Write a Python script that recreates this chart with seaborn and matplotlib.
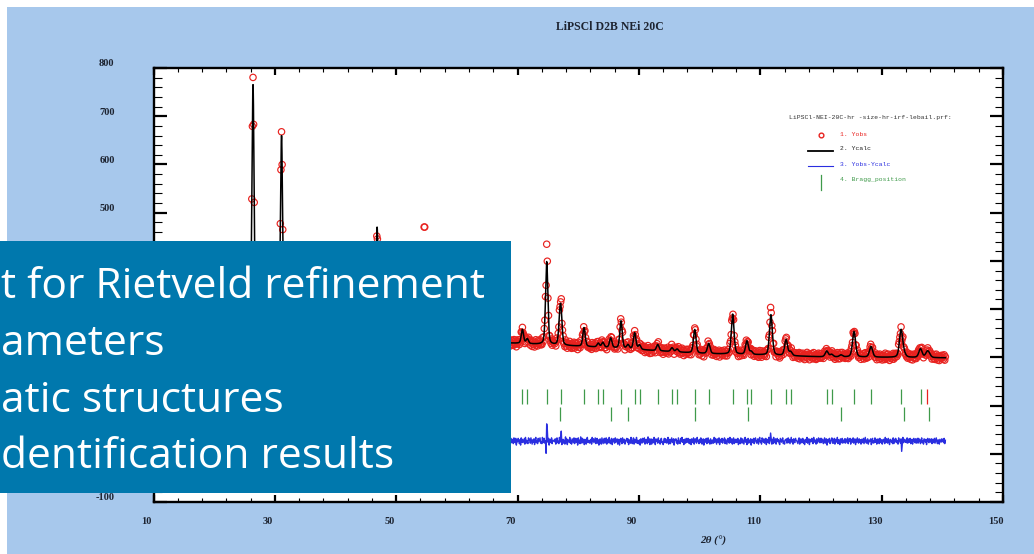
import numpy as np
import matplotlib
matplotlib.use("Agg")
import matplotlib.pyplot as plt
import seaborn as sns
from matplotlib.patches import Rectangle
from matplotlib.lines import Line2D

# ---------------------------------------------------------------- data
TT_START = 10.0          # first 2theta of the observed scan
TT_STEP = 0.1            # scan step (deg)

# background nodes (2theta, counts)
BKG_POS = [10, 20, 30, 40, 50, 60, 70, 75, 80, 85, 90, 95, 100, 110, 115, 120, 130, 140]
BKG_VAL = [262, 258, 252, 246, 240, 234, 229, 226, 223, 220, 216, 212, 208, 205, 203, 201, 200, 199]

# reflections of the calculated profile: position, height above background, FWHM
PEAK_POS = [26.4, 31.1, 46.85, 54.65, 70.8, 71.6, 74.8, 76.95, 77.15, 80.95,
            83.3, 84.05, 85.35, 87.05, 88.2, 89.3, 90.1, 93.1, 95.45, 96.3,
            99.2, 101.5, 105.45, 107.8, 108.5, 111.75, 114.25, 115.0, 120.95, 121.75,
            123.3, 125.45, 128.25, 133.2, 133.7, 136.4, 137.5, 137.8]
PEAK_AMP = [511, 408, 228, 195, 29, 10, 172, 40, 60, 39,
            8, 10, 20, 57, 8, 34, 9, 13, 8, 6,
            49, 21, 83, 28, 6, 84, 33, 8, 12, 5,
            4, 53, 22, 57, 6, 18, 10, 6]
PEAK_FWHM = [0.42, 0.42, 0.43, 0.43, 0.45, 0.45, 0.45, 0.45, 0.45, 0.46,
             0.46, 0.46, 0.47, 0.47, 0.47, 0.48, 0.48, 0.49, 0.5, 0.5,
             0.5, 0.51, 0.52, 0.53, 0.53, 0.55, 0.56, 0.56, 0.58, 0.58,
             0.59, 0.6, 0.61, 0.63, 0.63, 0.64, 0.65, 0.65]

# counting scatter of the observed points about the calculated profile
NOISE = [
    3, -5, 1, 7, -2, -8, 4, 0, -3, 6, 2, -6, 9, -1, -4, 5, -7, 2, 8, -3,
    -1, 4, -9, 2, 6, -3, 0, 5, -6, 3, -2, 7, -5, 1, 10, -4, 2, -8, 4, 0,
    6, -2, -5, 8, 1, -7, 3, -1, 5, -4, 2, 9, -3, -6, 4, 0, 7, -2, -9, 3,
    -4, 1, 6, -3, 8, -1, -6, 2, 5, -8, 3, 0, -2, 7, -5, 4, 1, -7, 6, -3,
    2, 7, -4, -1, 5, -9, 3, 6, -2, 0, -5, 8, 1, -3, 4, -6, 9, -2, -4, 5,
    -7, 3, 0, 6, -2, 4, -8, 1, 7, -5, 2, -1, 5, -6, 3, 10, -4, 0, 6, -3,
    1, -6, 8, -2, 3, -4, 5, 0, -7, 4, -1, 6, -3, 2, -9, 7, -5, 3, 1, -2,
    5, -3, -8, 4, 0, 7, -1, -5, 2, 6, -4, 3, -7, 9, -2, 1, -6, 4, -3, 8,
    -2, 6, 3, -5, 9, -1, -4, 2, 5, -7, 1, -3, 7, 0, -6, 4, -2, 8, -5, 2,
    4, -8, 1, 5, -3, 0, 6, -6, 3, -2, 8, -4, 2, -9, 5, -1, 3, -5, 7, -2,
    -5, 2, 7, -4, 1, -7, 4, 3, -2, 9, -6, 0, 5, -3, 2, -8, 6, -1, 4, -4,
    3, -1, -6, 8, -3, 5, -2, -7, 6, 1, -4, 7, -1, 3, -5, 2, 9, -6, 0, 5,
    -3, 7, 2, -5, 4, -2, -8, 6, -1, 3, 5, -6, 8, -4, 1, -2, 4, -7, 3, 0,
    6, -4, 1, 3, -7, 8, -2, 0, 5, -5, 2, -3, 6, -8, 4, 1, -1, 7, -4, 2,
    -6, 5, -2, 9, -1, -4, 3, 7, -5, 0, 4, -7, 2, 5, -3, 8, -6, 1, -2, 6,
    2, -3, 7, -6, 0, 4, -5, 8, -2, -4, 6, 1, -8, 3, 5, -1, 2, -5, 9, -3,
    -4, 8, -1, 2, -6, 5, 1, -3, 7, -7, 3, -2, 4, 6, -5, 0, -8, 5, 2, -1,
    5, -2, -7, 4, 3, -5, 8, -1, -4, 6, -3, 2, 7, -6, 1, -2, 5, -4, 0, 8,
    -1, 4, 6, -8, 2, 1, -5, 7, 3, -3, -6, 9, -2, 4, -7, 5, 0, -4, 6, -2,
    7, -5, 2, 0, -3, 6, -7, 4, -1, 8, -4, 3, -2, -5, 6, 2, -8, 3, 1, -6,
    0, 3, -4, 7, -6, 2, 5, -2, -8, 4, 1, -5, 8, -3, 2, 6, -4, -1, 5, -7,
    4, -6, 9, -2, 1, -3, 6, -5, 2, 3, -7, 0, 5, -1, -4, 7, -3, 8, -6, 1,
    -2, 5, -1, -7, 6, 3, -4, 1, 8, -5, 2, -2, -6, 7, 4, -3, 0, 5, -8, 3,
    6, -1, 3, -4, -2, 8, -6, 5, 0, -3, 7, -5, 1, 4, -7, 2, 6, -2, -4, 9,
    -5, 2, -3, 6, 4, -8, 1, 3, -6, 7, -1, 5, -4, 0, 8, -5, 3, -2, 6, -3,
    1, 7, -5, 2, -1, 4, -9, 6, 3, -2, -4, 8, -6, 2, 5, -3, 1, -7, 4, 0,
    -3, 4, 8, -6, 2, -1, 5, -4, 7, 0, -5, 3, -2, 9, -7, 1, 4, -3, -5, 6,
    5, -7, 1, 3, -4, 6, -2, 8, -5, 2, 1, -6, 7, -3, 0, 5, -8, 3, -1, 4,
    -6, 2, 4, -3, 7, -5, 0, 3, -1, -7, 6, 2, -4, 5, -2, 8, -6, 1, 3, -4,
    3, -2, -6, 9, -4, 1, 5, -7, 2, 6, -3, 0, 4, -5, 7, -1, -3, 6, -8, 2,
    -1, 6, 2, -5, 3, -8, 7, -2, 4, -3, 1, 5, -6, 8, -4, 2, -1, -5, 7, 3,
    4, -4, 7, 1, -6, 3, -2, 5, -7, 2, 8, -3, 0, -5, 6, -1, 3, 7, -4, -2,
    -5, 8, -3, 2, 6, -4, 1, -7, 5, 3, -2, 6, -8, 4, 0, -3, 7, -5, 2, 1,
    2, -1, 5, -6, 4, 7, -3, 0, -5, 8, -2, 3, 6, -7, 1, 4, -4, 2, -6, 9,
    -3, 5, -7, 3, 0, -2, 8, -4, 2, -6, 5, 1, -3, 7, -5, 0, 6, -2, 4, -8,
    7, -3, 2, -5, 9, -1, -4, 6, -2, 3, -7, 4, 1, -6, 5, 8, -3, -1, 2, -4,
    -2, 4, -6, 8, -1, 5, -3, 2, 7, -5, 0, 6, -4, 3, -8, 1, 5, -2, -6, 7,
    1, -5, 3, 6, -4, -2, 7, -6, 4, 1, -3, 8, -2, -5, 3, 6, -7, 2, 5, -1,
    -4, 7, -2, 0, 5, -6, 3, 4, -8, 2, 6, -1, -5, 7, -3, 2, 4, -6, 1, 3,
    6, -2, 5, -7, 1, 3, -4, 8, -1, -5, 2, 7, -6, 4, 0, -3, 8, -4, 2, -5,
    -1, 3, -8, 5, 2, -4, 6, -2, 3, 7, -6, 1, 4, -3, -5, 9, -2, 5, -7, 2,
    5, -6, 2, 4, -3, 8, -1, -7, 5, 0, 3, -4, 7, -2, 1, -6, 4, 6, -3, -1,
    -7, 2, 6, -3, 5, -1, -4, 3, 8, -6, 2, 4, -5, 1, 7, -2, -3, 5, -8, 4,
    3, 5, -4, 1, -6, 7, 2, -3, -5, 6, -1, 8, -2, 3, -7, 4, 1, -4, 6, -2,
    -2, 6, -1, -5, 4, 2, -7, 5, 0, -3, 7, -6, 3, 5, -2, -4, 8, -1, 2, -5,
    4, -3, 7, 2, -6, 1, 5, -8, 3, 4, -2, 6, -5, 0, 7, -3, 2, -6, 5, 1,
    -5, 1, 3, -4, 8, -2, 6, 0, -6, 5, 2, -3, 7, -7, 4, 1, -2, 6, -4, 3,
    2, 7, -5, 4, -1, -6, 3, 6, -2, -4, 8, 1, -3, 5, -6, 2, 7, -5, 0, 4,
    -3, 4, -2, 6, -7, 3, 1, -5, 7, 2, -4, 5, -1, -6, 3, 8, -2, 4, -7, 1,
    6, -4, 2, -1, 5, -8, 4, 3, -3, 6, -5, 0, 7, 2, -4, -1, 5, -6, 3, 8,
    -2, 1, -6, 7, 3, -2, 5, -4, 0, 6, -7, 4, 2, -3, 8, -5, 1, 3, -2, -6,
    4, -5, 8, -3, 1, 5, -6, 2, 6, -1, 3, -4, -7, 6, 2, -2, 4, 7, -5, 0,
    -6, 3, 2, 5, -4, -1, 7, -3, 4, -5, 1, 8, -2, 3, -6, 5, -1, -3, 6, 2,
    1, -2, -5, 4, 7, -6, 2, 5, -3, 0, 6, -4, 3, -7, 1, 4, -2, 8, -4, 3,
    5, -7, 4, -1, 2, 6, -3, -5, 8, -2, 3, 1, -6, 5, -4, 2, 7, -1, -3, 6,
    -3, 6, -1, 3, -5, 2, 7, -4, 1, 5, -8, 3, 4, -2, 6, -5, 0, 3, 7, -4,
    2, -4, 6, -6, 4, 1, -2, 8, -5, 3, 2, -7, 5, 1, -3, 6, -4, 2, -1, 5,
    -4, 5, 1, -3, 7, -5, 3, 0, 6, -6, 4, 2, -2, 7, -4, 1, 5, -7, 3, -2,
    7, -1, -4, 5, -2, 3, -6, 4, 2, -3, 6, -5, 1, 8, -2, -4, 3, 5, -6, 2,
    -1, 3, 5, -7, 2, 6, -4, 1, -3, 7, -2, 4, -6, 3, 5, -1, -5, 6, 2, -3,
    3, -6, 2, 4, -1, -5, 8, -3, 5, 0, -4, 6, 2, -7, 3, 4, -2, 1, -5, 7,
    -5, 4, -2, 6, 3, -3, 1, -6, 7, 2, -1, -4, 5, 3, -6, 8, -3, 2, 4, -2,
    2, -3, 7, -4, 0, 5, -2, 6, -5, 1, 4, -6, 3, 6, -1, -3, 5, -4, 2, 6,
    -4, 6, -1, 3, -5, 2, 7, -3, 1, -6, 5, 3, -2, 4, -7, 2, 6, -1, -3, 5,
    3, -2, 5, -5, 4, 1, -3, 6, -4, 2, 7, -1, -5, 3, 2, -6, 4, 1, -2, 5,
    0, 4, -3, 6, -5, 2,
]

# observed points that depart from the model (2theta, extra counts)
MISFIT_POS = [26.4, 31.1, 46.8, 46.9, 54.5, 54.6, 54.7, 74.7, 74.8, 74.9, 77.2, 111.7, 111.8, 133.3]
MISFIT_VAL = [6, 8, -12, -12, 45, 50, 45, -18, 31, 22, 15, 14, 8, -24]

DIFF_OFFSET = 26   # vertical shift of the Yobs-Ycalc curve

# Bragg reflection markers
BRAGG_1 = [70.8, 71.62, 74.81, 77.12, 80.95, 83.3, 84.07, 87.08, 89.33, 90.11,
           93.11, 95.47, 96.29, 99.2, 101.5, 105.45, 107.8, 108.52, 111.74, 114.27,
           114.98, 120.95, 121.77, 125.46, 128.25, 133.18, 136.41]
BRAGG_1_LAST = [137.51]
BRAGG_2 = [76.95, 85.34, 88.18, 99.31, 107.91, 123.32, 133.68, 137.79]

X_TICKS = [10, 30, 50, 70, 90, 110, 130, 150]
Y_TICKS = [-100, 0, 100, 200, 300, 400, 500, 600, 700, 800]
Y_LABELS_SHOWN = [-100, 500, 600, 700, 800]

TITLE = "LiPSCl D2B NEi 20C"
X_LABEL = "2\u03b8 (\u00b0)"
LEGEND_HEAD = "LiPSCl-NEI-20C-hr -size-hr-irf-lebail.prf:"
LEGEND_ITEMS = ["1. Yobs", "2. Ycalc", "3. Yobs-Ycalc", "4. Bragg_position"]
BULLETS = ["t for Rietveld refinement", "ameters", "atic structures", "dentification results"]

# ---------------------------------------------------------------- model
def pseudo_voigt(x, x0, fwhm, eta=0.35):
    d2 = 4.0 * (x - x0) ** 2 / fwhm ** 2
    return eta / (1.0 + d2) + (1.0 - eta) * np.exp(-np.log(2.0) * d2)


def profile(x):
    y = np.interp(x, BKG_POS, BKG_VAL)
    for p, a, w in zip(PEAK_POS, PEAK_AMP, PEAK_FWHM):
        y = y + a * pseudo_voigt(x, p, w)
    return y


tt_obs = TT_START + TT_STEP * np.arange(len(NOISE))
ycalc_at_obs = profile(tt_obs)
extra = np.zeros_like(tt_obs)
for p, v in zip(MISFIT_POS, MISFIT_VAL):
    extra[int(round((p - TT_START) / TT_STEP))] += v
yobs = ycalc_at_obs + np.asarray(NOISE, float) + extra
ydiff = yobs - ycalc_at_obs + DIFF_OFFSET

tt_fine = np.arange(TT_START, tt_obs[-1] + 1e-9, 0.01)
ycalc = profile(tt_fine)

# ---------------------------------------------------------------- figure
W, H, DPI = 1034, 554, 100
PT = 72.0 / DPI

SKY = "#a7c8ec"
RED = "#e8221f"
BLUE = "#2a2ee0"
GREEN = "#3f9a4a"
INK = "#1d2431"
BOX = "#0078ad"

fig = plt.figure(figsize=(W / DPI, H / DPI), dpi=DPI, facecolor=SKY)


def fx(px):
    return px / W


def fy(py):
    return 1.0 - py / H


# thin white margins on the top and left edges
fig.add_artist(Rectangle((0, fy(7)), 1, 7 / H, transform=fig.transFigure,
                         facecolor="white", edgecolor="none", zorder=-5))
fig.add_artist(Rectangle((0, 0), fx(7), 1, transform=fig.transFigure,
                         facecolor="white", edgecolor="none", zorder=-5))

ax_l, ax_r, ax_t, ax_b = 153.5, 1003.0, 68.0, 502.0
ax = fig.add_axes([fx(ax_l), fy(ax_b), fx(ax_r - ax_l), (ax_b - ax_t) / H])
ax.set_facecolor("white")

sns.scatterplot(x=tt_obs, y=yobs, ax=ax, marker="o", s=21, facecolor="none",
                edgecolor=RED, linewidth=0.85, legend=False, zorder=2)
sns.lineplot(x=tt_fine, y=ycalc, ax=ax, color="black", linewidth=1.1,
             estimator=None, sort=False, legend=False, zorder=3)
sns.lineplot(x=tt_obs, y=ydiff, ax=ax, color=BLUE, linewidth=1.0,
             estimator=None, sort=False, legend=False, zorder=3)

ax.vlines(BRAGG_1, 104, 134, colors=GREEN, linewidth=0.9, zorder=3)
ax.vlines(BRAGG_1_LAST, 104, 134, colors=RED, linewidth=0.9, zorder=3)
ax.vlines(BRAGG_2, 67, 97, colors=GREEN, linewidth=0.9, zorder=3)

ax.set_xlim(10, 150)
ax.set_ylim(-100, 800)
ax.set_xticks(X_TICKS)
ax.set_xticks(np.arange(10, 151, 4), minor=True)
ax.set_yticks(Y_TICKS)
ax.set_yticks(np.arange(-100, 801, 20), minor=True)
ax.tick_params(labelbottom=False, labelleft=False)
ax.tick_params(axis="x", which="major", direction="in", length=5, width=1.6,
               top=True, bottom=True)
ax.tick_params(axis="x", which="minor", direction="in", length=3, width=0.8,
               top=True, bottom=True)
ax.tick_params(axis="y", which="major", direction="in", length=9.5, width=1.6,
               left=True, right=True)
ax.tick_params(axis="y", which="minor", direction="in", length=6, width=0.8,
               left=True, right=True)
for s in ax.spines.values():
    s.set_linewidth(1.7)
    s.set_color("black")
ax.set_xlabel("")
ax.set_ylabel("")

serif_b = dict(family="Liberation Serif", weight="bold", color=INK, size=7.5)
for v in X_TICKS:
    ax.annotate(str(v), xy=(v, 0), xycoords=ax.get_xaxis_transform(),
                xytext=(-7 * PT, -19 * PT), textcoords="offset points",
                ha="center", va="center", **serif_b)
for v in Y_LABELS_SHOWN:
    ax.annotate(str(v), xy=(0, v), xycoords=ax.get_yaxis_transform(),
                xytext=(-39 * PT, 4 * PT), textcoords="offset points",
                ha="right", va="center", **serif_b)

fig.text(fx(610), fy(27), TITLE, ha="center", va="center",
         family="Liberation Serif", weight="bold", size=8.5, color=INK)
fig.text(fx(713), fy(541), X_LABEL, ha="center", va="center",
         family="Liberation Serif", weight="bold", style="italic", size=8, color=INK)

# legend block of the refinement plot
mono = dict(family="Liberation Mono", size=4.6, va="center", ha="left")
fig.text(fx(789), fy(118), LEGEND_HEAD, color="#333333", **mono)
fig.add_artist(Line2D([fx(821)], [fy(135)], marker="o", markersize=3.4,
                      markerfacecolor="none", markeredgecolor=RED,
                      markeredgewidth=1.0, linestyle="none",
                      transform=fig.transFigure))
fig.add_artist(Line2D([fx(808), fx(833)], [fy(151), fy(151)], color="black",
                      linewidth=1.3, transform=fig.transFigure))
fig.add_artist(Line2D([fx(808), fx(833)], [fy(166), fy(166)], color=BLUE,
                      linewidth=0.8, transform=fig.transFigure))
fig.add_artist(Line2D([fx(821), fx(821)], [fy(175), fy(190)], color=GREEN,
                      linewidth=0.9, transform=fig.transFigure))
for txt, col, py in zip(LEGEND_ITEMS, [RED, "#222222", BLUE, GREEN], [134, 149, 164, 180]):
    fig.text(fx(840), fy(py), txt, color=col, **mono)

# slide text panel laid over the lower-left part of the plot
fig.add_artist(Rectangle((0, fy(493)), fx(511), (493 - 241) / H,
                         transform=fig.transFigure, facecolor=BOX,
                         edgecolor="none", zorder=10))
for txt, base in zip(BULLETS, [298, 355, 412, 468]):
    t = fig.text(fx(1), fy(base), txt, ha="left", va="baseline",
                 family="Open Sans", size=30.6, color="white")
    t.set_zorder(11)

fig.savefig("out.png", dpi=DPI, facecolor=fig.get_facecolor())
